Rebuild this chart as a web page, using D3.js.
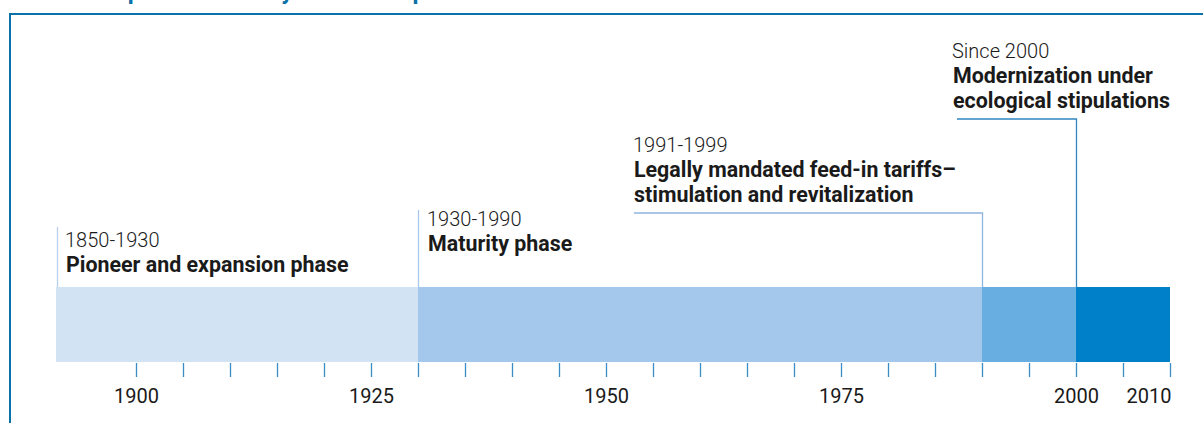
<!DOCTYPE html>
<html>
<head>
<meta charset="utf-8">
<script src="https://cdn.jsdelivr.net/npm/d3@7"></script>
<style>
  html, body { margin: 0; padding: 0; background: #fff; }
  svg { display: block; font-family: Roboto, "Noto Sans", sans-serif; }
</style>
</head>
<body>
<svg id="chart" width="1203" height="423"></svg>
<script>
// ---- data ----
const phaseStart = [1850, 1930, 1990, 2000];
const phaseEnd = [1930, 1990, 2000, 2010];
const periodLabels = ["1850-1930", "1930-1990", "1991-1999", "Since 2000"];
const phaseTitles = [
  ["Pioneer and expansion phase"],
  ["Maturity phase"],
  ["Legally mandated feed-in tariffs\u2013", "stimulation and revitalization"],
  ["Modernization under", "ecological stipulations"]
];
const tickYears = d3.range(1900, 2011, 5);
const tickLabels = [1900, 1925, 1950, 1975, 2000, 2010];
const chartTitle = "Development of the hydroelectric power";

// ---- styles / layout ----
const phaseColors = ["#d2e3f4", "#a3c8eb", "#68aee0", "#0080c9"];
const leaderColors = ["#b5d1ee", "#a9c9ea", "#8fb4e0", "#2f86c0"];
const labelPos = [
  { tx: 65, ty: 247, top: 227, elbow: false },
  { tx: 427, ty: 226, top: 210, elbow: false },
  { tx: 633, ty: 152, top: 213, elbow: true, hx: 634 },
  { tx: 952, ty: 58, top: 119, elbow: true, hx: 957 }
];
const lineH = 25;
const barTop = 287, barBottom = 362;

const svg = d3.select("#chart");

const x = d3.scaleLinear().domain([1850, 1900, 2010]).range([56, 136, 1170]);

// frame
svg.append("path")
  .attr("d", "M10,423 V14 H1203")
  .attr("fill", "none")
  .attr("stroke", "#0a72a8")
  .attr("stroke-width", 2);

// clipped title (only descenders visible, as in the reference)
svg.append("text")
  .attr("x", 56).attr("y", -1.5)
  .attr("fill", "#0a72a8")
  .attr("font-size", 23.5).attr("font-weight", 700)
  .text(chartTitle);

// bars
svg.append("g").selectAll("rect")
  .data(phaseStart)
  .join("rect")
  .attr("x", (d) => x(d))
  .attr("y", barTop)
  .attr("width", (d, i) => x(phaseEnd[i]) - x(d))
  .attr("height", barBottom - barTop)
  .attr("fill", (d, i) => phaseColors[i]);

// leaders
const lg = svg.append("g").attr("fill", "none").attr("stroke-width", 1.3);
phaseStart.forEach((s, i) => {
  const p = labelPos[i];
  const lx = Math.round(x(s)) + 0.5 + (i === 0 ? 1 : 0);
  const d = p.elbow
    ? `M${p.hx},${p.top} H${lx} V${barTop}`
    : `M${lx},${p.top} V${barTop}`;
  lg.append("path").attr("d", d).attr("stroke", leaderColors[i]);
});

// labels
const tg = svg.append("g").attr("fill", "#1a1a1a");
phaseStart.forEach((s, i) => {
  const p = labelPos[i];
  tg.append("text")
    .attr("x", p.tx).attr("y", p.ty)
    .attr("font-size", 20).attr("font-weight", 300)
    .text(periodLabels[i]);
  phaseTitles[i].forEach((t, j) => {
    tg.append("text")
      .attr("x", p.tx + 1).attr("y", p.ty + lineH * (j + 1))
      .attr("font-size", 21.4).attr("font-weight", 700)
      .text(t);
  });
});

// axis
const axis = d3.axisBottom(x)
  .tickValues(tickYears)
  .tickSize(14)
  .tickSizeOuter(0)
  .tickFormat((d) => tickLabels.includes(d) ? String(d) : "");
const ag = svg.append("g")
  .attr("transform", `translate(0,${barBottom + 1})`)
  .call(axis);
ag.select(".domain").remove();
ag.selectAll(".tick line").attr("stroke", "#3a8cc4").attr("stroke-width", 1.3);
ag.selectAll(".tick text")
  .attr("fill", "#1a1a1a")
  .attr("font-size", 20)
  .attr("font-family", "Roboto, sans-serif")
  .attr("y", 26)
  .attr("dy", "0.71em")
  .attr("text-anchor", (d) => d === 2010 ? "end" : "middle")
  .attr("dx", (d) => d === 2010 ? 1 : 0);
</script>
</body>
</html>
